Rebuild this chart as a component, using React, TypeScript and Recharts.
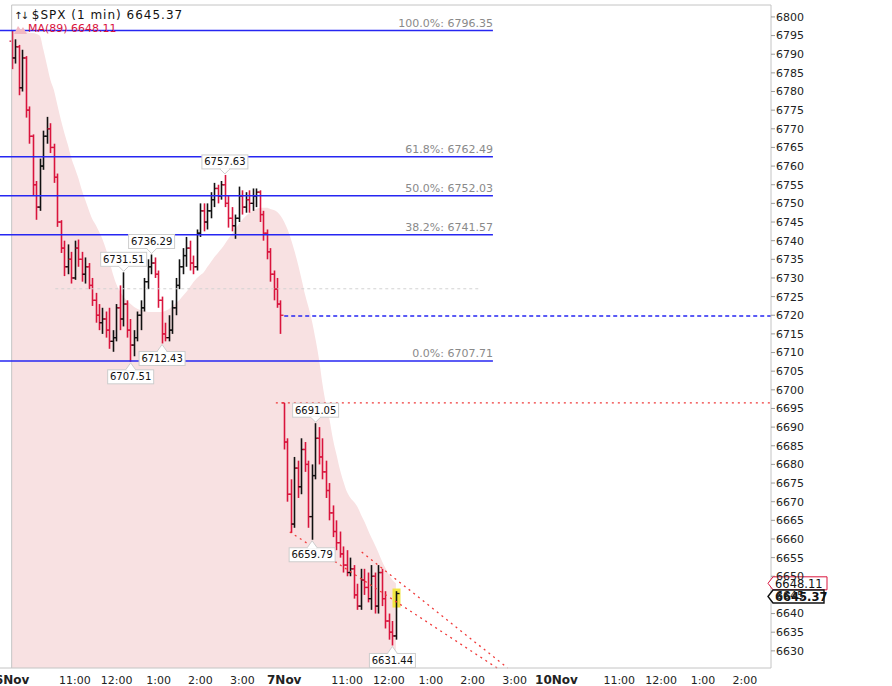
import React from "react";
import {
  ComposedChart,
  Area,
  Bar,
  XAxis,
  YAxis,
  ReferenceLine,
  ReferenceDot,
} from "recharts";

// 5-minute bars, time = minutes after 6 Nov 9:30 (7 Nov opens at 390, 10 Nov at 780)
const barTimes = [
  0, 5, 10, 15, 20, 25, 30, 35, 40, 45, 50, 55, 60, 65, 70, 75, 80, 85, 90, 95,
  100, 105, 110, 115, 120, 125, 130, 135, 140, 145, 150, 155, 160, 165, 170, 175,
  180, 185, 190, 195, 200, 205, 210, 215, 220, 225, 230, 235, 240, 245, 250, 255,
  260, 265, 270, 275, 280, 285, 290, 295, 300, 305, 310, 315, 320, 325, 330, 335,
  340, 345, 350, 355, 360, 365, 370, 375, 380, 385,
  390, 395, 400, 405, 410, 415, 420, 425, 430, 435, 440, 445, 450, 455, 460, 465,
  470, 475, 480, 485, 490, 495, 500, 505, 510, 515, 520, 525, 530, 535, 540, 545, 550,
];

const opens = [
  6793.5, 6789, 6792, 6781, 6789, 6775, 6768, 6755, 6749, 6760, 6768, 6770, 6765, 6757, 6745, 6738, 6733, 6735, 6730, 6738,
  6735, 6731, 6733, 6728, 6724, 6720, 6718, 6719, 6716, 6713, 6714, 6722, 6719, 6723, 6716, 6712, 6714, 6720, 6722, 6729,
  6733, 6734, 6731, 6724, 6715, 6714, 6716, 6722, 6728, 6733, 6736, 6738, 6734, 6733, 6742, 6748, 6745, 6748, 6751, 6754,
  6752, 6755, 6750, 6746, 6744, 6746, 6752, 6749, 6751, 6750, 6752, 6753, 6747, 6742, 6737, 6731, 6727, 6723,
  6696.5, 6686, 6672, 6664, 6679, 6674, 6684, 6680, 6666, 6677, 6687, 6682, 6678, 6673, 6667, 6662, 6659, 6656, 6653, 6651,
  6652, 6645, 6642, 6649, 6647, 6644, 6650, 6642, 6651, 6644, 6638, 6635, 6634,
];

const highs = [
  6796.35, 6794, 6792.5, 6791.2, 6789.5, 6776, 6768.5, 6756, 6762, 6769.5, 6773.2, 6771.5, 6766, 6758, 6745.5, 6740, 6739, 6737, 6740, 6740.3,
  6737, 6735.5, 6734, 6730, 6726, 6723, 6722, 6721, 6722, 6716, 6723, 6728, 6731.51, 6724, 6719, 6716, 6721, 6724, 6730, 6735,
  6736.29, 6735.5, 6732, 6725, 6718, 6720, 6724, 6730, 6735, 6738, 6741, 6740, 6736, 6743, 6750, 6750, 6750, 6753, 6755.5, 6755,
  6756, 6757.63, 6752, 6749, 6747, 6754.5, 6753.5, 6753, 6753.5, 6754, 6754, 6753.5, 6748, 6743, 6738, 6732, 6730, 6724,
  6696.5, 6687, 6676, 6682, 6681, 6687, 6686, 6681, 6680, 6691.05, 6690, 6687, 6681, 6675, 6669, 6665, 6662, 6658, 6657, 6655,
  6653, 6648, 6652, 6652, 6651, 6653, 6651, 6653, 6652, 6646, 6640, 6638, 6646,
];

const lows = [
  6786, 6787.5, 6779, 6780, 6773, 6766, 6752, 6745.6, 6748, 6759, 6766, 6763.5, 6755.5, 6743.7, 6736.7, 6730.5, 6731, 6728.5, 6729.5, 6733,
  6729, 6728.5, 6727, 6722.5, 6718, 6716, 6715, 6714, 6711, 6710.2, 6713, 6716, 6717, 6714, 6707.51, 6709, 6713, 6716, 6721, 6727,
  6731, 6730, 6722, 6712.43, 6713, 6713, 6715, 6720, 6727, 6731, 6733, 6732, 6731, 6732, 6741, 6742.5, 6743, 6746, 6749, 6750,
  6751, 6749, 6743.5, 6742.5, 6740.5, 6745, 6747, 6747.5, 6747.5, 6748, 6749, 6745, 6740, 6735, 6729, 6724, 6722, 6715,
  6684, 6670, 6661.6, 6663, 6671, 6672, 6678, 6663, 6659.79, 6676, 6680, 6676, 6671, 6665, 6660.5, 6657, 6655, 6651, 6650, 6650,
  6644, 6641, 6641, 6645, 6643, 6641, 6640, 6640, 6642, 6636, 6633, 6631.44, 6633,
];

const closes = [
  6789, 6792, 6781, 6789, 6775, 6768, 6755, 6749, 6760, 6768, 6770, 6765, 6757, 6745, 6738, 6733, 6735, 6730, 6738, 6735,
  6731, 6733, 6728, 6724, 6720, 6718, 6719, 6716, 6713, 6714, 6722, 6719, 6723, 6716, 6712, 6714, 6720, 6722, 6729, 6733,
  6734, 6731, 6724, 6715, 6714, 6716, 6722, 6728, 6733, 6736, 6738, 6734, 6733, 6742, 6748, 6745, 6748, 6751, 6754, 6752,
  6755, 6750, 6746, 6744, 6746, 6752, 6749, 6751, 6750, 6752, 6753, 6747, 6742, 6737, 6731, 6727, 6723, 6720,
  6686, 6672, 6664, 6679, 6674, 6684, 6680, 6666, 6677, 6687, 6682, 6678, 6673, 6667, 6662, 6659, 6656, 6653, 6651, 6652,
  6645, 6642, 6649, 6647, 6644, 6650, 6642, 6651, 6644, 6638, 6635, 6634, 6645.37,
];

// 89-period moving average (shaded area)
const ma89 = [
  6796.5, 6796.5, 6796.2, 6796, 6796, 6795.7, 6795.7, 6795.4, 6794.9, 6791.2,
  6787.1, 6783.1, 6780.4, 6776.4, 6772.4, 6768.9, 6765.7, 6762.2, 6759.5, 6756.8,
  6753.6, 6750.9, 6748.2, 6745.8, 6744.2, 6742.3, 6740.2, 6737.5, 6734.3, 6730.8,
  6728.1, 6726.3, 6724.9, 6723.8, 6723.0, 6722.2, 6721.7, 6721.4, 6721.2, 6720.9,
  6720.9, 6720.9, 6720.9, 6720.9, 6721.2, 6721.7, 6722.5, 6723.3, 6724.1, 6725.2,
  6726.3, 6727.6, 6728.9, 6730.0, 6730.8, 6731.6, 6733.0, 6734.3, 6735.6, 6736.7,
  6737.8, 6739.1, 6740.5, 6741.8, 6743.1, 6744.5, 6745.6, 6746.6, 6747.4, 6748.0,
  6748.5, 6748.8, 6748.8, 6748.8, 6748.5, 6748.2, 6747.7, 6746.6,
  6745.0, 6742.9, 6740.2, 6737.0, 6733.5, 6729.5, 6725.4, 6722.0, 6718.2, 6713.4,
  6708.0, 6701.3, 6696.0, 6691.9, 6686.6, 6682.5, 6678.5, 6675.3, 6672.6, 6671.0,
  6669.9, 6668.6, 6666.5, 6664.6, 6662.4, 6660.3, 6658.4, 6656.3, 6654.1, 6652.2,
  6650.4, 6649.0, 6648.11,
];

const xTicks = [0, 90, 150, 210, 270, 330, 390, 480, 540, 600, 660, 720, 780, 870, 930, 990, 1050];
const xTickLabels = [
  "6Nov", "11:00", "12:00", "1:00", "2:00", "3:00",
  "7Nov", "11:00", "12:00", "1:00", "2:00", "3:00",
  "10Nov", "11:00", "12:00", "1:00", "2:00",
];
const yTicks = [
  6630, 6635, 6640, 6645, 6650, 6655, 6660, 6665, 6670, 6675, 6680, 6685,
  6690, 6695, 6700, 6705, 6710, 6715, 6720, 6725, 6730, 6735, 6740, 6745,
  6750, 6755, 6760, 6765, 6770, 6775, 6780, 6785, 6790, 6795, 6800,
];

const fibPcts = ["100.0%", "61.8%", "50.0%", "38.2%", "0.0%"];
const fibPrices = [6796.35, 6762.49, 6752.03, 6741.57, 6707.71];

const calloutTimes = [160, 200, 305, 170, 215, 435, 430, 545];
const calloutPrices = [6731.51, 6736.29, 6757.63, 6707.51, 6712.43, 6691.05, 6659.79, 6631.44];
const calloutAbove = [true, true, true, false, false, true, false, false];

const lastClose = 6645.37;
const lastMa = 6648.11;
const priorClose = 6719.8;
const gapLevel = 6696.5;
const midLevel = 6727.1;
const trendUpper = [{ x: 501, y: 6656.5 }, { x: 710, y: 6625.4 }];
const trendLower = [{ x: 398, y: 6661.9 }, { x: 695, y: 6625.4 }];

const X_DOMAIN: [number, number] = [-17.2, 1087.4];
const Y_DOMAIN: [number, number] = [6625.4, 6803.2];
const FIB_END = 689;
const MID_START = 62;
const MID_END = 668;
const GAP_START = 378;

const FONT = "'DejaVu Sans', Verdana, sans-serif";
const UP = "#111111";
const DOWN = "#d9143d";
const BLUE = "#2626f2";
const FRAME = "#c4c4c4";

const data = barTimes.map((t, i) => ({
  t,
  open: opens[i],
  high: highs[i],
  low: lows[i],
  close: closes[i],
  ma: ma89[i],
}));

const OhlcBar = (props: any) => {
  const { x, y, width, height, payload } = props;
  if (!payload || x == null || y == null) return null;
  const cx = Math.round(x + width / 2) + 0.5;
  const span = payload.high - payload.low || 1;
  const at = (v: number) => y + ((payload.high - v) / span) * height;
  const color = payload.close >= payload.open ? UP : DOWN;
  const isLast = payload.t === barTimes[barTimes.length - 1];
  const yc = at(payload.close);
  return (
    <g>
      {isLast && <rect x={cx - 4} y={yc - 5} width={8} height={19} fill="#f2e640" />}
      <line x1={cx} x2={cx} y1={y} y2={y + height} stroke={color} strokeWidth={1.6} />
      <line x1={cx - 3} x2={cx} y1={at(payload.open)} y2={at(payload.open)} stroke={color} strokeWidth={1.3} />
      <line x1={cx} x2={cx + 3} y1={yc} y2={yc} stroke={color} strokeWidth={1.3} />
    </g>
  );
};

const Callout = ({ cx, cy, label, above }: { cx: number; cy: number; label: string; above: boolean }) => {
  const w = 46;
  const h = 14;
  const gap = above ? 6 : 8;
  const top = above ? cy - gap - h : cy + gap;
  const edge = above ? top + h : top;
  const tip = above ? cy - 1 : cy + 1;
  return (
    <g>
      <rect x={cx - w / 2} y={top} width={w} height={h} fill="#fff" stroke="#cdcdcd" />
      <path d={`M${cx - 5},${edge} L${cx},${tip} L${cx + 5},${edge}`} fill="#fff" stroke="#cdcdcd" />
      <line x1={cx - 4} x2={cx + 4} y1={edge} y2={edge} stroke="#fff" strokeWidth={1.5} />
      <text x={cx} y={top + h - 3.5} textAnchor="middle" fontSize={10} fontFamily={FONT} fill="#111">
        {label}
      </text>
    </g>
  );
};

const PriceTag = ({ cx, cy, label, border, bold }: any) => {
  const x0 = cx + 2;
  const w = bold ? 51 : 54;
  const d = `M${x0 - 5},${cy} L${x0},${cy - 6.5} L${x0 + w},${cy - 6.5} L${x0 + w},${cy + 6.5} L${x0},${cy + 6.5} Z`;
  return (
    <g>
      <path d={d} fill="#fff" stroke={border} strokeWidth={bold ? 1.4 : 1} />
      <text x={x0 + 2} y={cy + 4.5} fontSize={11.5} fontWeight={bold ? 700 : 400} fontFamily={FONT} fill="#111">
        {label}
      </text>
    </g>
  );
};

const XTick = (props: any) => {
  const { x, y, payload } = props;
  const label = xTickLabels[xTicks.indexOf(payload.value)] ?? "";
  const isDay = label.includes("Nov");
  return (
    <text
      x={x}
      y={y + 16}
      textAnchor="middle"
      fontSize={isDay ? 12 : 11}
      fontWeight={isDay ? 700 : 400}
      fontFamily={FONT}
      fill="#222"
    >
      {label}
    </text>
  );
};

export default function App() {
  return (
    <div style={{ position: "absolute", left: 0, top: 0, width: 892, height: 686, background: "#fff" }}>
      <ComposedChart
        width={892}
        height={686}
        data={data}
        margin={{ top: 5, right: 0, bottom: 0, left: 0 }}
      >
        <XAxis
          dataKey="t"
          type="number"
          domain={X_DOMAIN}
          allowDataOverflow
          ticks={xTicks}
          interval={0}
          height={18}
          tickSize={0}
          tickMargin={0}
          tickLine={false}
          axisLine={{ stroke: FRAME }}
          tick={<XTick />}
        />
        <YAxis
          orientation="right"
          type="number"
          domain={Y_DOMAIN}
          allowDataOverflow
          ticks={yTicks}
          interval={0}
          width={121}
          tickSize={4}
          tickMargin={1}
          axisLine={{ stroke: FRAME }}
          tickLine={{ stroke: "#999" }}
          tick={{ fill: "#222", fontSize: 11, fontFamily: FONT }}
        />
        <Area
          dataKey="ma"
          type="monotone"
          fill="#f8e1e2"
          fillOpacity={1}
          stroke="none"
          isAnimationActive={false}
        />
        <ReferenceLine
          segment={[{ x: -0.5, y: Y_DOMAIN[1] }, { x: X_DOMAIN[1], y: Y_DOMAIN[1] }]}
          stroke={FRAME}
          ifOverflow="visible"
        />
        <ReferenceLine
          segment={[{ x: -0.5, y: Y_DOMAIN[0] }, { x: -0.5, y: Y_DOMAIN[1] }]}
          stroke={FRAME}
          ifOverflow="visible"
        />
        <ReferenceLine
          segment={[{ x: MID_START, y: midLevel }, { x: MID_END, y: midLevel }]}
          stroke="#d2d2d2"
          strokeDasharray="3 3"
          ifOverflow="visible"
        />
        <Bar
          dataKey={(d: any) => [d.low, d.high]}
          barSize={3}
          shape={OhlcBar}
          isAnimationActive={false}
        />
        {fibPrices.map((p) => (
          <ReferenceLine
            key={`fib-${p}`}
            segment={[{ x: X_DOMAIN[0], y: p }, { x: FIB_END, y: p }]}
            stroke={BLUE}
            strokeWidth={1.4}
            ifOverflow="visible"
          />
        ))}
        {fibPrices.map((p, i) => (
          <ReferenceDot
            key={`fibl-${p}`}
            x={FIB_END}
            y={p}
            r={0}
            ifOverflow="visible"
            shape={(s: any) => (
              <text x={s.cx} y={s.cy - 4} textAnchor="end" fontSize={11} fontFamily={FONT} fill="#8a8a8a">
                {`${fibPcts[i]}: ${p.toFixed(2)}`}
              </text>
            )}
          />
        ))}
        <ReferenceLine
          segment={[{ x: barTimes[78], y: priorClose }, { x: X_DOMAIN[1], y: priorClose }]}
          stroke={BLUE}
          strokeWidth={1.3}
          strokeDasharray="4 3"
          ifOverflow="visible"
        />
        <ReferenceLine
          segment={[{ x: GAP_START, y: gapLevel }, { x: X_DOMAIN[1], y: gapLevel }]}
          stroke="#f03a3a"
          strokeWidth={1.3}
          strokeDasharray="2 4"
          ifOverflow="visible"
        />
        <ReferenceLine
          segment={trendUpper}
          stroke="#f03a3a"
          strokeWidth={1.3}
          strokeDasharray="2 4"
          ifOverflow="visible"
        />
        <ReferenceLine
          segment={trendLower}
          stroke="#f03a3a"
          strokeWidth={1.3}
          strokeDasharray="2 4"
          ifOverflow="visible"
        />
        {calloutPrices.map((p, i) => (
          <ReferenceDot
            key={`co-${p}`}
            x={calloutTimes[i]}
            y={p}
            r={0}
            ifOverflow="visible"
            shape={(s: any) => (
              <Callout cx={s.cx} cy={s.cy} label={p.toFixed(2)} above={calloutAbove[i]} />
            )}
          />
        ))}
        <ReferenceDot
          x={X_DOMAIN[1]}
          y={lastMa}
          r={0}
          ifOverflow="visible"
          shape={(s: any) => <PriceTag cx={s.cx} cy={s.cy} label={lastMa.toFixed(2)} border={DOWN} />}
        />
        <ReferenceDot
          x={X_DOMAIN[1]}
          y={lastClose}
          r={0}
          ifOverflow="visible"
          shape={(s: any) => (
            <PriceTag cx={s.cx} cy={s.cy + 3} label={lastClose.toFixed(2)} border="#111" bold />
          )}
        />
      </ComposedChart>

      <div
        style={{
          position: "absolute",
          left: 14,
          top: 8,
          fontFamily: FONT,
          fontSize: 12,
          letterSpacing: 1,
          color: "#111",
          whiteSpace: "nowrap",
          lineHeight: "14px",
        }}
      >
        <span style={{ fontSize: 10, letterSpacing: -2, marginRight: 5 }}>↑↓</span>$SPX (1 min) {lastClose.toFixed(2)}
      </div>
      <div
        style={{
          position: "absolute",
          left: 14,
          top: 22,
          fontFamily: FONT,
          fontSize: 11,
          color: DOWN,
          whiteSpace: "nowrap",
          lineHeight: "13px",
          display: "flex",
          alignItems: "center",
        }}
      >
        <svg width={13} height={10} style={{ marginRight: 1 }}>
          <path d="M0,10 L4,2 L7,6 L9,3 L13,10 Z" fill="#f2b8c2" />
        </svg>
        MA(89) {lastMa.toFixed(2)}
      </div>
    </div>
  );
}
